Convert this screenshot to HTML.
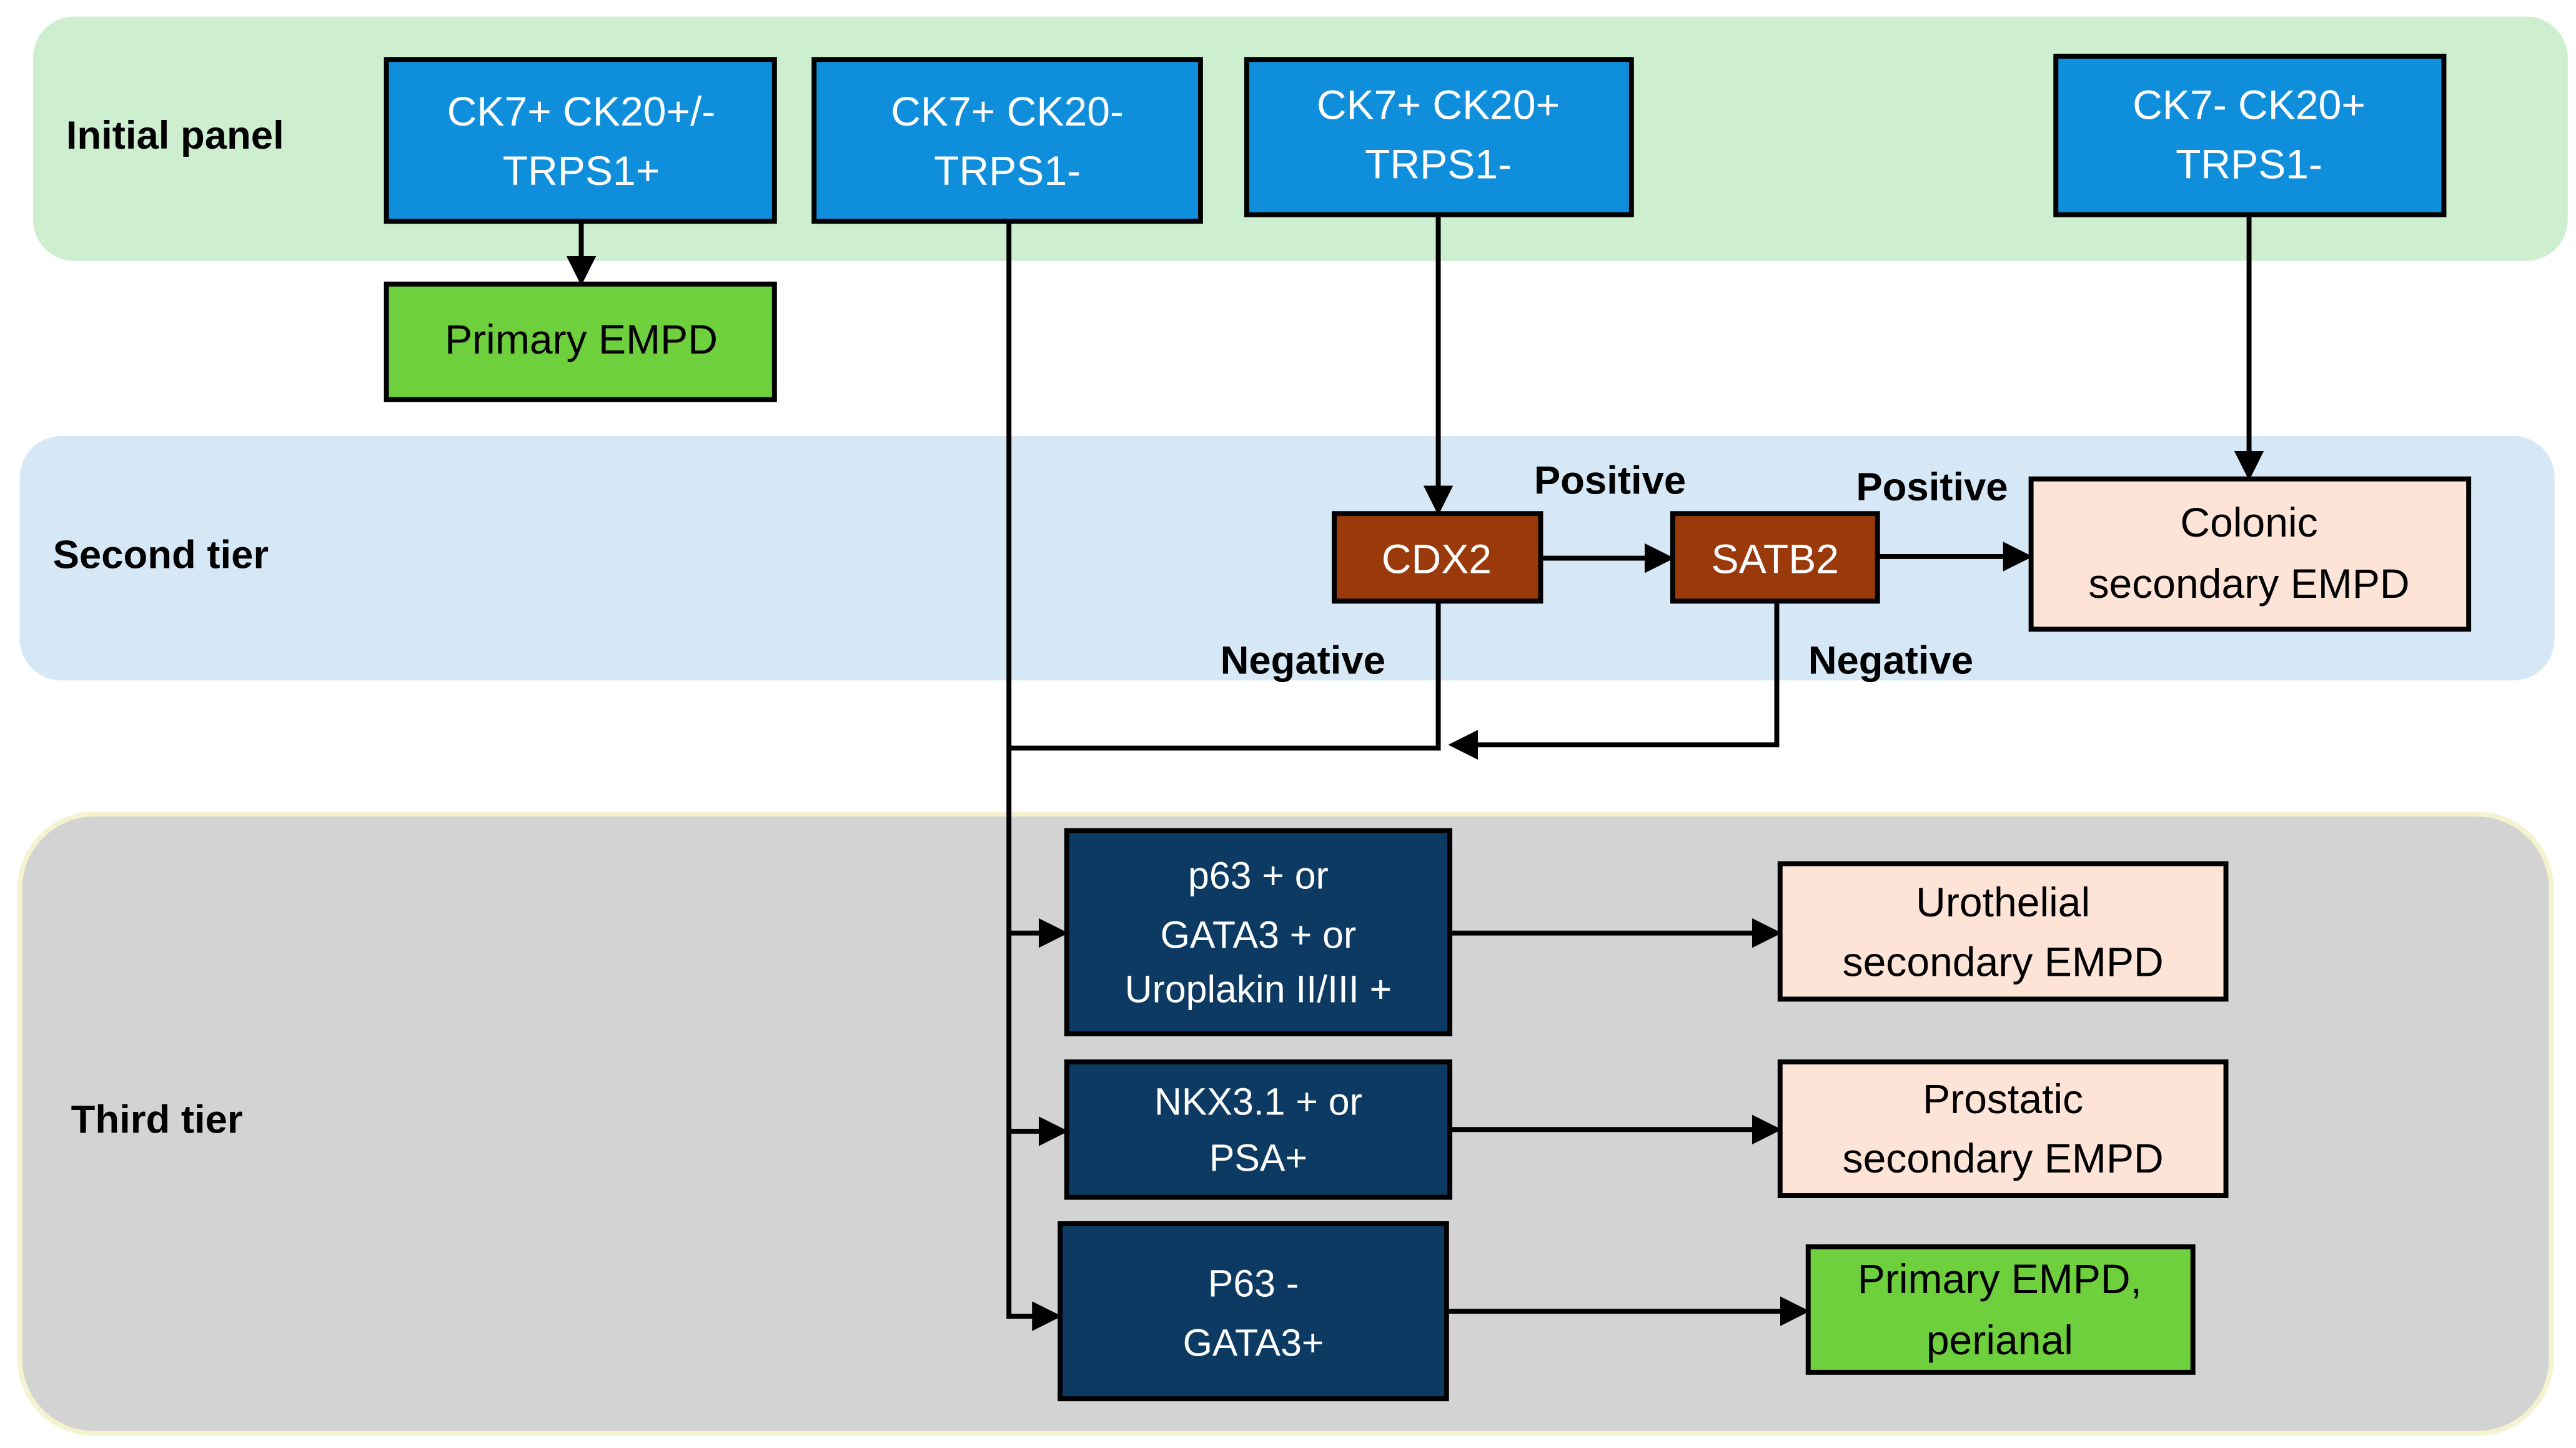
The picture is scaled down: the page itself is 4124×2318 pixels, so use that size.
<!DOCTYPE html>
<html><head><meta charset="utf-8"><style>html,body{margin:0;padding:0;background:#fff}svg{display:block}</style></head>
<body>
<svg width="4124" height="2318" viewBox="0 0 1560 876.8" xmlns="http://www.w3.org/2000/svg" font-family="'Liberation Sans', sans-serif">
<defs><marker id="a" markerWidth="6" markerHeight="6" refX="5" refY="3" orient="auto" markerUnits="strokeWidth"><path d="M0,0 L6,3 L0,6 z" fill="#000"/></marker></defs>
<rect x="20" y="10" width="1535" height="148" rx="25" fill="#cdefd0"/>
<rect x="12" y="264" width="1535" height="148" rx="25" fill="#d6e8f6"/>
<rect x="12" y="493" width="1533" height="375" rx="45" fill="#d3d3d3" stroke="#f3f3d0" stroke-width="3"/>
<g font-weight="bold" font-size="24" fill="#000">
<text x="40" y="90">Initial panel</text>
<text x="32" y="344">Second tier</text>
<text x="43" y="686">Third tier</text>
<text x="975" y="299" text-anchor="middle">Positive</text>
<text x="1170" y="303" text-anchor="middle">Positive</text>
<text x="789" y="408" text-anchor="middle">Negative</text>
<text x="1145" y="408" text-anchor="middle">Negative</text>
</g>
<g stroke="#000" stroke-width="3">
<rect x="234" y="36" width="235" height="98" fill="#0f8fdb"/>
<rect x="493" y="36" width="234" height="98" fill="#0f8fdb"/>
<rect x="755" y="36" width="233" height="94" fill="#0f8fdb"/>
<rect x="1245" y="34" width="235" height="96" fill="#0f8fdb"/>
<rect x="234" y="172" width="235" height="70" fill="#6dd03c"/>
<rect x="808" y="311" width="125" height="53" fill="#9a3a0b"/>
<rect x="1013" y="311" width="124" height="53" fill="#9a3a0b"/>
<rect x="1230" y="290" width="265" height="91" fill="#fde4d7"/>
<rect x="646" y="503" width="232" height="123" fill="#0c3a63"/>
<rect x="646" y="643" width="232" height="82" fill="#0c3a63"/>
<rect x="642" y="741" width="234" height="106" fill="#0c3a63"/>
<rect x="1078" y="523" width="270" height="82" fill="#fde4d7"/>
<rect x="1078" y="643" width="270" height="81" fill="#fde4d7"/>
<rect x="1095" y="755" width="233" height="76" fill="#6dd03c"/>
</g>
<g stroke="#000" stroke-width="3" fill="none">
<path d="M352 134 V170" marker-end="url(#a)"/>
<path d="M611 134 V797 H640" marker-end="url(#a)"/>
<path d="M871 130 V309" marker-end="url(#a)"/>
<path d="M1362 130 V288" marker-end="url(#a)"/>
<path d="M933 338 H1011" marker-end="url(#a)"/>
<path d="M1137 337 H1228" marker-end="url(#a)"/>
<path d="M871 364 V453 H611"/>
<path d="M1076 364 V451 H880" marker-end="url(#a)"/>
<path d="M611 565 H644" marker-end="url(#a)"/>
<path d="M611 685 H644" marker-end="url(#a)"/>
<path d="M878 565 H1076" marker-end="url(#a)"/>
<path d="M878 684 H1076" marker-end="url(#a)"/>
<path d="M876 794 H1093" marker-end="url(#a)"/>
</g>
<g font-size="25" fill="#fff" text-anchor="middle">
<text x="352" y="76">CK7+ CK20+/-</text><text x="352" y="112">TRPS1+</text>
<text x="610" y="76">CK7+ CK20-</text><text x="610" y="112">TRPS1-</text>
<text x="871" y="72">CK7+ CK20+</text><text x="871" y="108">TRPS1-</text>
<text x="1362" y="72">CK7- CK20+</text><text x="1362" y="108">TRPS1-</text>
<text x="870" y="347">CDX2</text><text x="1075" y="347">SATB2</text>
<g font-size="23">
<text x="762" y="538">p63 + or</text><text x="762" y="574">GATA3 + or</text><text x="762" y="607">Uroplakin II/III +</text>
<text x="762" y="675">NKX3.1 + or</text><text x="762" y="709">PSA+</text>
<text x="759" y="785">P63 -</text><text x="759" y="821">GATA3+</text>
</g>
</g>
<g font-size="25" fill="#000" text-anchor="middle">
<text x="352" y="214">Primary EMPD</text>
<text x="1362" y="325">Colonic</text><text x="1362" y="362">secondary EMPD</text>
<text x="1213" y="555">Urothelial</text><text x="1213" y="591">secondary EMPD</text>
<text x="1213" y="674">Prostatic</text><text x="1213" y="710">secondary EMPD</text>
<text x="1211" y="783">Primary EMPD,</text><text x="1211" y="820">perianal</text>
</g>
</svg>
</body></html>
